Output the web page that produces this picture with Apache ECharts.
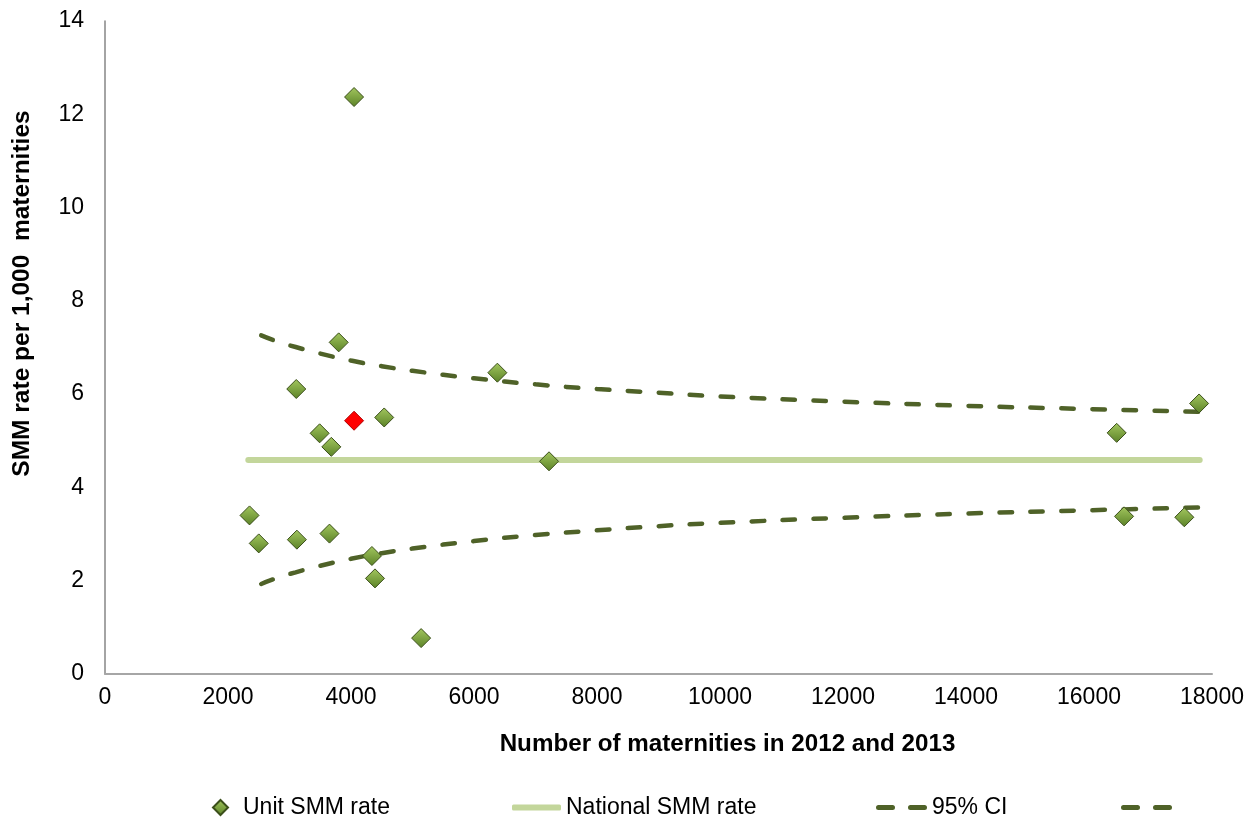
<!DOCTYPE html>
<html>
<head>
<meta charset="utf-8">
<script src="https://cdn.jsdelivr.net/npm/echarts@6/dist/echarts.min.js"></script>
<style>
html,body{margin:0;padding:0;background:#fff;}
#chart{width:1260px;height:820px;}
</style>
</head>
<body>
<div id="chart"></div>
<script>
// ---- data ----
const unitX = [2350, 2500, 3110, 3120, 3490, 3680, 3650, 3800, 4050, 4340, 4390, 4540, 5140, 6380, 7220, 4050, 16450, 16570, 17550, 17790];
const unitY = [3.40, 2.80, 6.11, 2.88, 5.16, 4.87, 3.01, 7.11, 5.43, 2.53, 2.05, 5.50, 0.77, 6.46, 4.56, 12.37, 5.17, 3.38, 3.36, 5.80];
const highlightIndex = 8; // the red unit
const nationalX = [2330, 17800];
const nationalY = [4.59, 4.59];
const ciX = [2540, 2800, 3100, 3500, 4000, 4500, 5000, 6000, 7000, 8000, 9000, 10000, 12000, 14000, 16000, 17800];
const ciUpper = [7.26, 7.13, 7.01, 6.87, 6.72, 6.60, 6.50, 6.34, 6.21, 6.11, 6.03, 5.95, 5.84, 5.75, 5.68, 5.62];
const ciLower = [1.93, 2.06, 2.18, 2.32, 2.47, 2.59, 2.69, 2.85, 2.98, 3.08, 3.17, 3.24, 3.35, 3.44, 3.51, 3.57];
const xTicks = {min: 0, max: 18000, interval: 2000};
const yTicks = {min: 0, max: 14, interval: 2};
const labels = {
  unit: 'Unit SMM rate',
  national: 'National SMM rate',
  ci: '95% CI',
  ci2: ' ',
  xName: 'Number of maternities in 2012 and 2013',
  yName: 'SMM rate per 1,000  maternities'
};

const FONT = '"Liberation Sans", Arial, sans-serif';
const CI_COLOR = '#4f6228';
const NAT_COLOR = '#c3d69b';
const diamondFill = new echarts.graphic.LinearGradient(0, 0, 0, 1, [
  {offset: 0, color: '#a3c75f'},
  {offset: 1, color: '#5b8227'}
]);
const dashIcon = 'path://M2.5,0 h14 a2.5,2.5 0 0 1 0,5 h-14 a2.5,2.5 0 0 1 0,-5 z M34.5,0 h14 a2.5,2.5 0 0 1 0,5 h-14 a2.5,2.5 0 0 1 0,-5 z';

const unitData = unitX.map((x, i) => {
  const d = {value: [x, unitY[i]]};
  if (i === highlightIndex) d.itemStyle = {color: '#ff0000', borderColor: '#b00000'};
  return d;
});

const legendText = {fontFamily: FONT, fontSize: 23, color: '#000'};

const chart = echarts.init(document.getElementById('chart'), null, {renderer: 'canvas'});
chart.setOption({
  animation: false,
  backgroundColor: '#ffffff',
  grid: {left: 105, right: 48, top: 21, bottom: 146, containLabel: false},
  xAxis: {
    type: 'value', min: xTicks.min, max: xTicks.max, interval: xTicks.interval,
    name: labels.xName, nameLocation: 'middle', nameGap: 58,
    nameTextStyle: {fontFamily: FONT, fontSize: 24.2, fontWeight: 'bold', color: '#000', padding: [0, 0, 0, 138]},
    axisLine: {show: true, lineStyle: {color: '#a6a6a6', width: 2}},
    axisTick: {show: false},
    splitLine: {show: false},
    axisLabel: {fontFamily: FONT, fontSize: 23, color: '#000', margin: 12, formatter: v => String(v)}
  },
  yAxis: {
    type: 'value', min: yTicks.min, max: yTicks.max, interval: yTicks.interval,
    name: labels.yName, nameLocation: 'middle', nameGap: 70,
    nameTextStyle: {fontFamily: FONT, fontSize: 24.5, fontWeight: 'bold', color: '#000', padding: [0, 0, 0, 108]},
    axisLine: {show: true, lineStyle: {color: '#868686', width: 1.5}},
    axisTick: {show: false},
    splitLine: {show: false},
    axisLabel: {fontFamily: FONT, fontSize: 23, color: '#000', margin: 21, formatter: v => String(v)}
  },
  legend: [
    {left: 207, top: 791, data: [{name: labels.unit, icon: 'diamond'}], itemWidth: 15, itemHeight: 15,
      textStyle: Object.assign({}, legendText, {padding: [0, 0, 0, 10]})},
    {left: 507, top: 791, data: [{name: labels.national, icon: 'roundRect'}], itemWidth: 49, itemHeight: 6,
      itemStyle: {color: NAT_COLOR}, textStyle: legendText},
    {left: 871, top: 791, data: [{name: labels.ci, icon: dashIcon}], itemWidth: 51, itemHeight: 5,
      itemStyle: {color: CI_COLOR}, textStyle: legendText},
    {left: 1116, top: 791, data: [{name: labels.ci2, icon: dashIcon}], itemWidth: 51, itemHeight: 5,
      itemStyle: {color: CI_COLOR}, textStyle: legendText}
  ],
  series: [
    {
      name: labels.national, type: 'line', data: nationalX.map((x, i) => [x, nationalY[i]]),
      symbol: 'none', lineStyle: {color: NAT_COLOR, width: 6, cap: 'round'}, itemStyle: {color: NAT_COLOR}, z: 2
    },
    {
      name: labels.ci, type: 'line', data: ciX.map((x, i) => [x, ciUpper[i]]), smooth: true,
      symbol: 'none', lineStyle: {color: CI_COLOR, width: 4.5, type: [12.5, 18.5], cap: 'round'}, itemStyle: {color: CI_COLOR}, z: 3
    },
    {
      name: labels.ci2, type: 'line', data: ciX.map((x, i) => [x, ciLower[i]]), smooth: true,
      symbol: 'none', lineStyle: {color: CI_COLOR, width: 4.5, type: [12.5, 18.5], cap: 'round'}, itemStyle: {color: CI_COLOR}, z: 3
    },
    {
      name: labels.unit, type: 'scatter', data: unitData, symbol: 'diamond', symbolSize: 19,
      itemStyle: {color: diamondFill, borderColor: '#3b4f1a', borderWidth: 1, opacity: 1}, z: 5
    }
  ]
});
</script>
</body>
</html>
